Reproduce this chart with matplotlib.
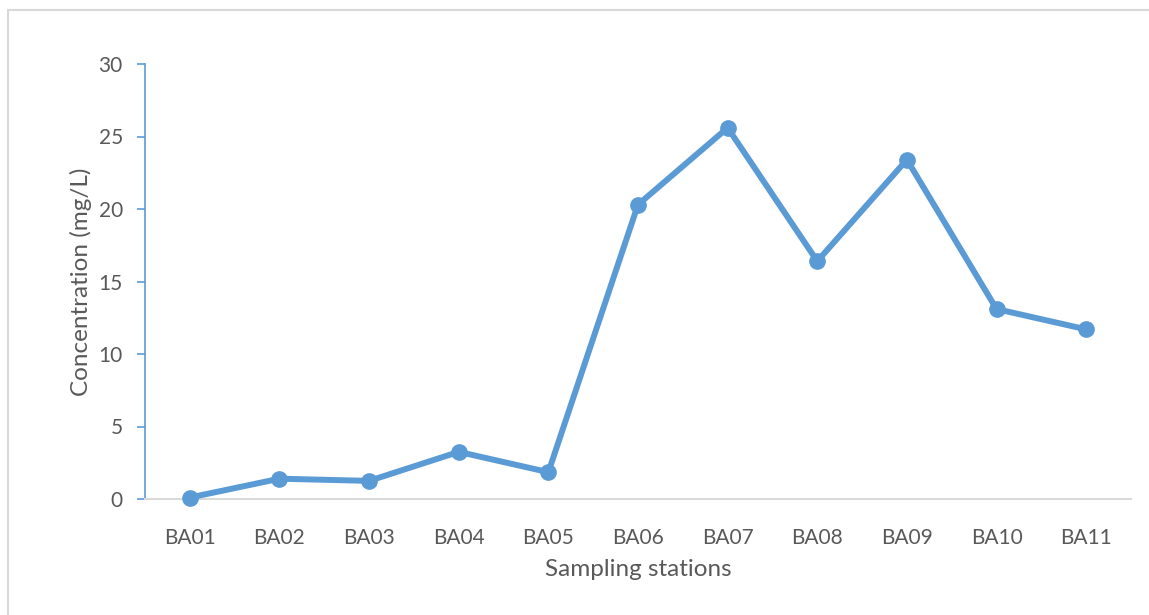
import matplotlib.pyplot as plt
from matplotlib.patches import Rectangle

stations = ["BA01", "BA02", "BA03", "BA04", "BA05", "BA06",
            "BA07", "BA08", "BA09", "BA10", "BA11"]
concentration = [0.1, 1.4, 1.25, 3.25, 1.85, 20.3, 25.6, 16.4, 23.4, 13.1, 11.7]
y_ticks = [0, 5, 10, 15, 20, 25, 30]

LINE_COLOR = "#5B9BD5"
TEXT_COLOR = "#595959"

plt.rcParams["font.family"] = ["Lato", "DejaVu Sans"]

fig = plt.figure(figsize=(11.49, 6.15), dpi=100)
ax = fig.add_axes([145 / 1149, 1 - 499 / 615, 986 / 1149, 435 / 615])

x = list(range(len(stations)))
ax.plot(x, concentration, color=LINE_COLOR, linewidth=4.3, marker="o",
        markersize=11, solid_joinstyle="round", clip_on=False, zorder=3)

ax.set_xlim(-0.5, len(stations) - 0.5)
ax.set_ylim(0, 30)
ax.set_yticks(y_ticks)
ax.set_xticks(x)
ax.set_xticklabels(stations)

for side in ["top", "right"]:
    ax.spines[side].set_visible(False)
ax.spines["left"].set_color(LINE_COLOR)
ax.spines["left"].set_linewidth(1.2)
ax.spines["bottom"].set_color("#D9D9D9")
ax.spines["bottom"].set_linewidth(1.5)

ax.tick_params(axis="y", colors=LINE_COLOR, labelcolor=TEXT_COLOR,
               labelsize=15, length=6, width=1.2, pad=10)
ax.tick_params(axis="x", length=0, labelcolor=TEXT_COLOR, labelsize=15, pad=21)

ax.set_xlabel("Sampling stations", fontsize=17.5, color=TEXT_COLOR, labelpad=8)
ax.set_ylabel("Concentration (mg/L)", fontsize=17.5, color=TEXT_COLOR, labelpad=5)

# outer chart border
fig.patches.append(Rectangle((8 / 1149, -0.1), 1.2, 1 - 10 / 615 + 0.1,
                             transform=fig.transFigure, fill=False,
                             edgecolor="#D9D9D9", linewidth=1.5))

fig.savefig("out.png", dpi=100)
